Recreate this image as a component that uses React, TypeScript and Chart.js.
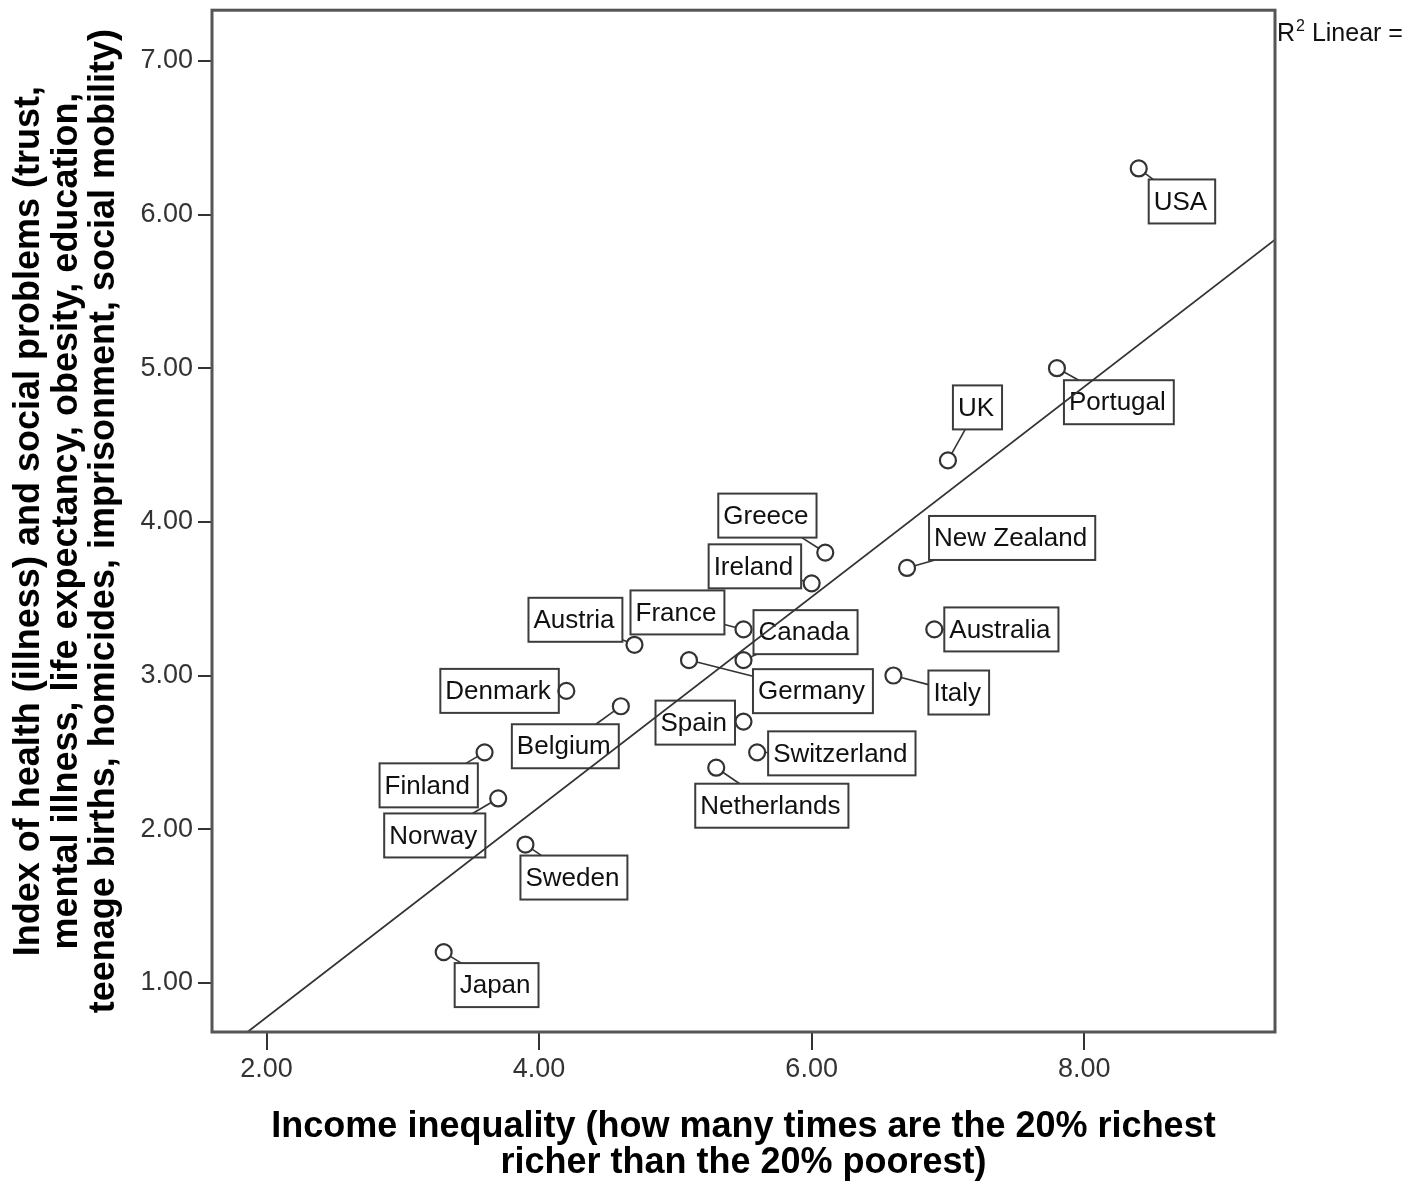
import React, { useEffect, useRef } from 'react';
import { Chart, registerables } from 'chart.js';

Chart.register(...registerables);

// Country data: income inequality ratio (richest 20% / poorest 20%) vs. health & social problems index
const countries = [
  'USA', 'Portugal', 'UK', 'Greece', 'Ireland', 'New Zealand', 'Australia', 'Italy',
  'France', 'Canada', 'Germany', 'Austria', 'Denmark', 'Belgium', 'Spain',
  'Switzerland', 'Netherlands', 'Finland', 'Norway', 'Sweden', 'Japan',
];
const incomeInequality = [
  8.4, 7.8, 7.0, 6.1, 6.0, 6.7, 6.9, 6.6,
  5.5, 5.5, 5.1, 4.7, 4.2, 4.6, 5.5,
  5.6, 5.3, 3.6, 3.7, 3.9, 3.3,
];
const healthSocialIndex = [
  6.3, 5.0, 4.4, 3.8, 3.6, 3.7, 3.3, 3.0,
  3.3, 3.1, 3.1, 3.2, 2.9, 2.8, 2.7,
  2.5, 2.4, 2.5, 2.2, 1.9, 1.2,
];
const xTicks = [2, 4, 6, 8];
const yTicks = [1, 2, 3, 4, 5, 6, 7];

const X_MIN = 1.6;
const X_MAX = 9.4;
const Y_MIN = 0.68;
const Y_MAX = 7.33;

// Label box placement: top-left corner offset from the marker centre, in pixels
const labelOffsets: [number, number][] = [
  [10, 11], [7, 12], [5, -75], [-107, -59], [-103, -39], [22, -52], [10, -22], [35, -5],
  [-113, -39], [10, -50], [64, 9], [-106, -47], [-126, -22], [-109, 18], [-88, -21],
  [11, -21], [-21, 16], [-105, 11], [-114, 15], [-5, 11], [11, 11],
];

const SANS = "'Liberation Sans', Arial, sans-serif";
const LABEL_FONT = `26px ${SANS}`;
const INK = '#333333';

// Ordinary least squares fit of the index on inequality
function linearFit(xs: number[], ys: number[]) {
  const n = xs.length;
  const mx = xs.reduce((a, b) => a + b, 0) / n;
  const my = ys.reduce((a, b) => a + b, 0) / n;
  let sxy = 0;
  let sxx = 0;
  for (let i = 0; i < n; i++) {
    sxy += (xs[i] - mx) * (ys[i] - my);
    sxx += (xs[i] - mx) * (xs[i] - mx);
  }
  const slope = sxy / sxx;
  return { slope, intercept: my - slope * mx };
}

const countryLabels = {
  id: 'countryLabels',
  beforeDatasetsDraw(chart: any) {
    const { ctx } = chart;
    const meta = chart.getDatasetMeta(0);
    ctx.save();
    ctx.font = LABEL_FONT;
    meta.data.forEach((pt: any, i: number) => {
      const [dx, dy] = labelOffsets[i];
      const text = countries[i];
      const w = ctx.measureText(text).width + 13;
      const h = 44;
      const bx = pt.x + dx;
      const by = pt.y + dy;

      // connector from the marker edge toward the box centre, ending on the box edge
      const vx = bx + w / 2 - pt.x;
      const vy = by + h / 2 - pt.y;
      const len = Math.hypot(vx, vy);
      const ux = vx / len;
      const uy = vy / len;
      const tx = ux !== 0 ? (ux > 0 ? (bx - pt.x) / ux : (bx + w - pt.x) / ux) : -Infinity;
      const ty = uy !== 0 ? (uy > 0 ? (by - pt.y) / uy : (by + h - pt.y) / uy) : -Infinity;
      const tHit = Math.max(tx, ty);
      const r = 8;
      if (tHit > r) {
        ctx.beginPath();
        ctx.strokeStyle = INK;
        ctx.lineWidth = 1.6;
        ctx.moveTo(pt.x + ux * r, pt.y + uy * r);
        ctx.lineTo(pt.x + ux * tHit, pt.y + uy * tHit);
        ctx.stroke();
      }

      ctx.fillStyle = '#ffffff';
      ctx.fillRect(bx, by, w, h);
      ctx.strokeStyle = '#3c3c3c';
      ctx.lineWidth = 2;
      ctx.strokeRect(bx, by, w, h);
      ctx.fillStyle = '#111111';
      ctx.textBaseline = 'middle';
      ctx.textAlign = 'left';
      ctx.fillText(text, bx + 5, by + h / 2 + 1);
    });
    ctx.restore();
  },
};

const plotFrame = {
  id: 'plotFrame',
  afterDraw(chart: any) {
    const { ctx, chartArea } = chart;
    ctx.save();
    ctx.strokeStyle = '#555555';
    ctx.lineWidth = 3;
    ctx.strokeRect(chartArea.left, chartArea.top, chartArea.right - chartArea.left, chartArea.bottom - chartArea.top);

    // fit-line caption beside the frame
    let x = chartArea.right + 2;
    const base = 41;
    ctx.fillStyle = '#111111';
    ctx.textBaseline = 'alphabetic';
    ctx.textAlign = 'left';
    ctx.font = `25px ${SANS}`;
    ctx.fillText('R', x, base);
    x += ctx.measureText('R').width + 1;
    ctx.font = `16px ${SANS}`;
    ctx.fillText('2', x, base - 10);
    x += ctx.measureText('2').width;
    ctx.font = `25px ${SANS}`;
    ctx.fillText(' Linear =', x, base);
    ctx.restore();
  },
};

export default function App() {
  const canvasRef = useRef<HTMLCanvasElement | null>(null);

  useEffect(() => {
    if (!canvasRef.current) return;
    const { slope, intercept } = linearFit(incomeInequality, healthSocialIndex);
    const fitLine = [X_MIN, X_MAX].map((x) => ({ x, y: intercept + slope * x }));
    const points = incomeInequality.map((x, i) => ({ x, y: healthSocialIndex[i] }));

    const chart = new Chart(canvasRef.current, {
      type: 'scatter',
      data: {
        datasets: [
          {
            label: 'Countries',
            data: points,
            pointStyle: 'circle',
            pointRadius: 8,
            pointHoverRadius: 8,
            borderWidth: 2.2,
            borderColor: INK,
            backgroundColor: 'rgba(0,0,0,0)',
            order: 1,
          },
          {
            label: 'Linear fit',
            data: fitLine,
            showLine: true,
            pointRadius: 0,
            borderColor: INK,
            borderWidth: 1.8,
            order: 2,
          },
        ],
      },
      options: {
        responsive: false,
        animation: false,
        devicePixelRatio: 1,
        events: [],
        layout: { padding: { top: 8, right: 138, left: 0, bottom: 0 } },
        plugins: {
          legend: { display: false },
          tooltip: { enabled: false },
        },
        scales: {
          x: {
            type: 'linear',
            min: X_MIN,
            max: X_MAX,
            afterBuildTicks: (scale: any) => {
              scale.ticks = xTicks.map((v) => ({ value: v }));
            },
            afterFit: (scale: any) => {
              scale.height = 149;
              scale.paddingLeft = 0;
              scale.paddingRight = 0;
            },
            ticks: {
              callback: (v: any) => Number(v).toFixed(2),
              font: { family: SANS, size: 27 },
              color: INK,
              padding: 3,
              maxRotation: 0,
            },
            grid: {
              display: true,
              drawOnChartArea: false,
              drawTicks: true,
              tickLength: 18,
              color: INK,
              lineWidth: 2,
            },
            border: { display: false },
            title: {
              display: true,
              text: ['Income inequality (how many times are the 20% richest', 'richer than the 20% poorest)'],
              color: '#000000',
              font: { family: SANS, size: 36, weight: 'bold', lineHeight: 1 },
              padding: { top: 0, bottom: 0 },
            },
          },
          y: {
            type: 'linear',
            min: Y_MIN,
            max: Y_MAX,
            afterBuildTicks: (scale: any) => {
              scale.ticks = yTicks.map((v) => ({ value: v }));
            },
            afterFit: (scale: any) => {
              scale.width = 212;
              scale.paddingTop = 0;
              scale.paddingBottom = 0;
            },
            ticks: {
              callback: (v: any) => Number(v).toFixed(2),
              font: { family: SANS, size: 27 },
              color: INK,
              padding: 5,
            },
            grid: {
              display: true,
              drawOnChartArea: false,
              drawTicks: true,
              tickLength: 14,
              color: INK,
              lineWidth: 2,
            },
            border: { display: false },
            title: {
              display: true,
              text: [
                'Index of health (illness) and social problems (trust,',
                'mental illness, life expectancy, obesity, education,',
                'teenage births, homicides, imprisonment, social mobility)',
              ],
              color: '#000000',
              font: { family: SANS, size: 36, weight: 'bold', lineHeight: 1.03 },
              padding: { top: 11, bottom: 0 },
            },
          },
        },
      },
      plugins: [countryLabels, plotFrame],
    });
    return () => chart.destroy();
  }, []);

  return (
    <div style={{ position: 'absolute', left: 0, top: 0, width: 1413, height: 1181, background: '#ffffff' }}>
      <canvas ref={canvasRef} width={1413} height={1181} style={{ display: 'block' }} />
    </div>
  );
}
